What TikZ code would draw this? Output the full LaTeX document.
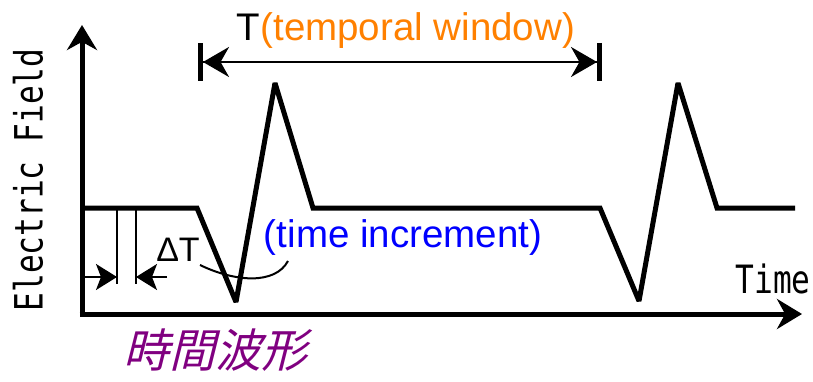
\documentclass[tikz,border=0pt]{standalone}
\usepackage{fontspec}
\setmainfont{Liberation Sans}
\newfontfamily\axisfont{DejaVu Sans Mono}
\newfontfamily\jpfont[FakeSlant=0.25]{Noto Sans CJK JP}
\usetikzlibrary{arrows.meta}
\definecolor{winorange}{RGB}{255,128,0}
\definecolor{incblue}{RGB}{0,0,255}
\definecolor{jppurple}{RGB}{128,0,128}

\begin{document}
\begin{tikzpicture}[
    x=1pt, y=-1pt,
    axis/.style={-{Stealth[length=25pt,width=30pt]}, line width=5pt},
    wave/.style={line width=5pt, line join=miter, miter limit=3},
    window/.style={{Bar[width=38pt,line width=5pt,sep=0pt]Stealth[length=26pt,width=30pt]}-{Stealth[length=26pt,width=30pt]Bar[width=38pt,line width=5pt,sep=0pt]},
                   line width=2.5pt},
    tick/.style={line width=2.5pt},
    incarrow/.style={-{Stealth[length=21pt,width=26pt,inset=5pt]}, line width=2pt},
    callout/.style={line width=2pt},
    axislabel/.style={font=\axisfont\fontsize{39}{39}\selectfont, inner sep=0pt}
]
    \useasboundingbox (0,0) rectangle (813,382);

    % axes
    \coordinate (o) at (82,314);
    \coordinate (ox) at (79.5,314);
    \coordinate (ytop) at (82,25);
    \coordinate (xend) at (802,314);
    \draw[axis] (o) -- (ytop);
    \draw[axis] (ox) -- (xend);
    \node[axislabel, rotate=90] (ef) at (28,180) {\scalebox{0.8}[1]{Electric Field}};
    \node[axislabel] (time) at (773,279) {\scalebox{0.8}[1]{Time}};

    % waveform
    \draw[wave] (82,208) -- (197,208) -- (236,302) -- (275,83) -- (313,208)
        -- (600,208) -- (639,301) -- (678,83) -- (717,208) -- (795,208);

    % temporal window
    \coordinate (wl) at (198,62);
    \coordinate (wr) at (602,62);
    \draw[window] (wl) -- (wr);
    \node[font=\fontsize{38.5}{38.5}\selectfont, inner sep=0pt] (win) at (406,31)
        {T\textcolor{winorange}{(temporal window)}};

    % time increment
    \coordinate (t1) at (117,277);
    \coordinate (t2) at (136,277);
    \draw[tick] (117,208) -- (117,284);
    \draw[tick] (136,208) -- (136,284);
    \coordinate (sl) at (83,277);
    \coordinate (sr) at (167,277);
    \draw[incarrow] (sl) -- (t1);
    \draw[incarrow] (sr) -- (t2);
    \node[font=\fontsize{34}{34}\selectfont, inner sep=0pt] (dt) at (178,250) {ΔT};
    \node[font=\fontsize{38.5}{38.5}\selectfont, text=incblue, inner sep=0pt] (inc) at (403,238)
        {(time increment)};
    \draw[callout] (200,265) .. controls (235,282) and (275,285) .. (288,261);

    \node[font=\jpfont\fontsize{46}{46}\selectfont, text=jppurple, inner sep=0pt] (jp) at (215,350)
        {時間波形};
\end{tikzpicture}
\end{document}
